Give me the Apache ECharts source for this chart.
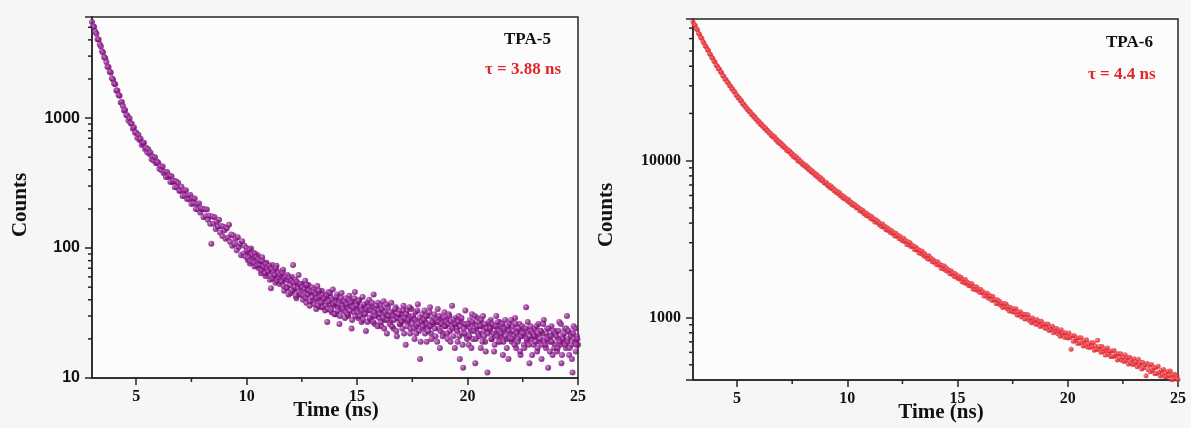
<!DOCTYPE html>
<html>
<head>
<meta charset="utf-8">
<title>TPA-5 / TPA-6 fluorescence decay</title>
<script src="https://cdn.jsdelivr.net/npm/echarts@6.0.0/dist/echarts.min.js"></script>
<style>
html, body { margin: 0; padding: 0; background: #fff; }
#decay { width: 1191px; height: 428px; }
</style>
</head>
<body>
<div id="decay"></div>
<script>
// time channels: 3 ns .. 25 ns, one reading every 0.05 ns
var timeStart = 3;
var timeStep = 0.05;
// the TPA-5 tail is denser: extra readings in between, from 10.025 ns
var lateStart = 10.025;

var xTicks = [5, 10, 15, 20, 25];
var xMinorTicks = [7.5, 12.5, 17.5, 22.5];

var yTicksTPA5 = [10, 100, 1000];
var yMinorTPA5 = [20, 30, 40, 50, 60, 70, 80, 90, 200, 300, 400, 500, 600, 700, 800, 900, 2000, 3000, 4000, 5000];
var yTicksTPA6 = [1000, 10000];
var yMinorTPA6 = [500, 600, 700, 800, 900, 2000, 3000, 4000, 5000, 6000, 7000, 8000, 9000,
    20000, 30000, 40000, 50000, 60000, 70000];

var nameTPA5 = 'TPA-5';
var tauTPA5 = 'τ = 3.88 ns';
var nameTPA6 = 'TPA-6';
var tauTPA6 = 'τ = 4.4 ns';

// photon counts
var countsTPA5 = [
    5500, 5100, 5020, 4610, 4450, 4045, 4025, 3697, 3569, 3277,
    3194, 2939, 2901, 2698, 2481, 2476, 2278, 2248, 2029, 1983,
    1843, 1823, 1633, 1632, 1506, 1488, 1319, 1332, 1242, 1145,
    1156, 1057, 1047, 957, 997, 913, 905, 827, 845, 773,
    774, 707, 744, 680, 693, 620, 640, 646, 579, 591,
    545, 575, 529, 542, 483, 505, 469, 499, 450, 461,
    454, 407, 426, 397, 424, 376, 387, 353, 385, 352,
    362, 323, 357, 323, 329, 294, 326, 294, 318, 276,
    276, 296, 252, 277, 252, 279, 238, 253, 237, 256,
    218, 242, 221, 241, 200, 218, 198, 220, 188, 201,
    201, 173, 199, 176, 198, 165, 177, 154, 108, 175,
    154, 173, 140, 159, 146, 165, 132, 148, 124, 146,
    137, 118, 142, 120, 151, 112, 127, 104, 125, 107,
    118, 96, 121, 102, 108, 88, 113, 91, 104, 86,
    100, 81, 93, 76, 99, 81, 92, 72, 86, 74,
    88, 70, 79, 64, 85, 69, 76, 61, 77, 64,
    71, 57, 49, 74, 59, 68, 54, 73, 58, 63,
    53, 66, 55, 68, 47, 58, 50, 62, 44, 57,
    45, 60, 74, 48, 57, 41, 53, 62, 44, 51,
    53, 40, 49, 56, 38, 47, 52, 36, 45, 50,
    39, 48, 43, 34, 51, 40, 45, 35, 47, 38,
    44, 33, 41, 27, 46, 37, 42, 32, 48, 36,
    40, 31, 44, 35, 26, 39, 45, 33, 38, 29,
    41, 35, 30, 43, 36, 24, 39, 32, 46, 34,
    37, 29, 40, 34, 27, 42, 31, 36, 23, 38,
    33, 40, 28, 35, 30, 44, 26, 34, 31, 38,
    29, 36, 25, 33, 39, 28, 31, 22, 35, 30,
    27, 38, 32, 24, 30, 35, 21, 29, 33, 26,
    31, 24, 36, 28, 18, 33, 27, 30, 22, 34,
    26, 29, 20, 32, 25, 37, 23, 14, 28, 31,
    24, 33, 27, 19, 30, 25, 35, 22, 28, 26,
    31, 21, 27, 34, 24, 17, 29, 26, 22, 32,
    25, 28, 20, 31, 23, 27, 36, 21, 26, 29,
    24, 19, 30, 14, 27, 22, 12, 26, 33, 21,
    25, 18, 28, 23, 31, 20, 26, 13, 24, 29,
    22, 27, 17, 25, 30, 21, 19, 24, 11, 26,
    23, 28, 20, 25, 16, 22, 30, 24, 19, 27,
    21, 25, 15, 23, 28, 20, 24, 14, 26, 22,
    19, 25, 21, 29, 17, 23, 20, 26, 15, 22,
    24, 18, 21, 35, 19, 23, 13, 25, 20, 22,
    18, 24, 21, 16, 26, 19, 23, 14, 22, 28,
    20, 17, 24, 12, 21, 19, 25, 15, 22, 18,
    23, 16, 20, 27, 18, 13, 21, 19, 24, 17,
    30, 20, 15, 22, 18, 11, 25, 19, 16, 21,
    18
];

var countsTPA5Late = [
    95, 84, 97, 79, 90, 88, 77, 91, 85, 73,
    82, 74, 80, 67, 79, 72, 64, 75, 70, 66,
    73, 61, 69, 58, 66, 62, 70, 56, 64, 59,
    62, 55, 64, 51, 58, 60, 49, 56, 59, 52,
    56, 47, 54, 50, 43, 55, 49, 46, 53, 44,
    50, 43, 48, 41, 52, 44, 47, 39, 46, 42,
    46, 37, 44, 41, 36, 47, 42, 38, 43, 35,
    41, 36, 43, 34, 39, 45, 33, 40, 37, 31,
    38, 42, 33, 37, 30, 41, 36, 34, 39, 32,
    37, 31, 40, 33, 38, 28, 35, 41, 30, 36,
    32, 39, 30, 35, 33, 28, 37, 31, 34, 27,
    35, 29, 33, 38, 27, 32, 30, 36, 25, 33,
    31, 27, 34, 29, 24, 32, 37, 28, 30, 26,
    32, 25, 30, 28, 34, 23, 29, 31, 26, 28,
    27, 33, 22, 29, 31, 25, 28, 35, 24, 29,
    30, 24, 28, 22, 33, 26, 29, 19, 27, 25,
    28, 22, 30, 26, 23, 32, 25, 20, 27, 29,
    24, 28, 19, 27, 30, 23, 26, 21, 29, 25,
    27, 22, 26, 30, 19, 25, 24, 28, 17, 26,
    23, 27, 21, 25, 29, 18, 24, 22, 26, 20,
    26, 21, 24, 17, 27, 23, 30, 20, 25, 22,
    21, 25, 28, 19, 23, 26, 16, 24, 22, 27,
    24, 20, 26, 22, 18, 25, 21, 27, 23, 19,
    22, 26, 19, 24, 21, 17, 25, 23, 20, 28,
    20, 23, 18, 26, 22, 19, 24, 16, 21, 25,
    22, 17, 24, 20, 27, 18, 21, 23, 15, 22,
    21, 19, 25, 17, 22, 20, 23, 18, 26, 19,
    18, 22, 20, 24, 16, 21, 19, 23, 17, 22,
    21, 17, 23, 19, 26, 15, 20, 22, 18, 24,
    19, 23, 17, 21, 14, 22, 20, 24, 18, 20
];

var countsTPA6 = [
    76700, 73600, 72800, 69400, 68300, 64800, 63800, 60900, 60200, 57400,
    56200, 53800, 53300, 51100, 50400, 48000, 47400, 45400, 45000, 43100,
    42500, 40600, 40200, 38600, 38400, 36800, 36500, 34800, 34500, 33100,
    32900, 31700, 31400, 30100, 29900, 28700, 28700, 27600, 27400, 26200,
    26000, 25100, 25100, 24100, 24100, 23000, 23100, 22200, 22100, 21300,
    21200, 20500, 20500, 19700, 19800, 19000, 19100, 18400, 18400, 17700,
    17800, 17100, 17200, 16600, 16600, 16000, 16100, 15500, 15500, 15000,
    15000, 14400, 14600, 14100, 14200, 13600, 13700, 13100, 13300, 12800,
    12900, 12400, 12500, 12100, 12100, 11600, 11800, 11400, 11500, 11000,
    11100, 10600, 10800, 10400, 10500, 10000, 10200, 9810, 9890, 9490,
    9600, 9240, 9390, 9030, 9150, 8740, 8840, 8490, 8640, 8310,
    8380, 8050, 8180, 7870, 7930, 7610, 7770, 7460, 7530, 7230,
    7170, 7260, 6950, 7030, 6740, 6910, 6630, 6690, 6430, 6500,
    6260, 6370, 6140, 6240, 5960, 6030, 5780, 5910, 5700, 5750,
    5530, 5650, 5420, 5470, 5240, 5360, 5160, 5240, 5010, 5080,
    5020, 4810, 4920, 4750, 4830, 4610, 4670, 4470, 4590, 4420,
    4480, 4280, 4400, 4220, 4260, 4070, 4200, 4030, 4090, 3900,
    3980, 3810, 3950, 3770, 3820, 3630, 3750, 3590, 3640, 3490,
    3590, 3430, 3480, 3310, 3450, 3300, 3350, 3180, 3290, 3160,
    3090, 3200, 3050, 3090, 2920, 3040, 2900, 3000, 2830, 2880,
    2850, 2720, 2820, 2700, 2730, 2580, 2680, 2560, 2650, 2490,
    2560, 2430, 2480, 2360, 2480, 2350, 2390, 2270, 2340, 2240,
    2270, 2170, 2270, 2160, 2190, 2060, 2150, 2050, 2130, 2000,
    2060, 1970, 2000, 1900, 1990, 1890, 1920, 1830, 1900, 1820,
    1780, 1840, 1760, 1810, 1690, 1740, 1670, 1750, 1650, 1680,
    1600, 1650, 1590, 1640, 1520, 1570, 1510, 1570, 1490, 1520,
    1450, 1510, 1440, 1460, 1370, 1430, 1370, 1430, 1330, 1370,
    1370, 1290, 1360, 1290, 1300, 1230, 1300, 1230, 1270, 1200,
    1230, 1160, 1230, 1170, 1220, 1140, 1170, 1100, 1160, 1110,
    1090, 1140, 1080, 1140, 1040, 1080, 1040, 1090, 1010, 1050,
    1050, 980, 1045, 987, 1044, 957, 989, 927, 993, 942,
    962, 908, 971, 908, 943, 876, 947, 890, 911, 859,
    905, 851, 910, 827, 868, 836, 881, 799, 848, 817,
    851, 788, 819, 761, 836, 778, 801, 748, 801, 754,
    741, 797, 746, 629, 766, 706, 767, 714, 738, 683,
    743, 688, 744, 690, 660, 712, 669, 723, 650, 680,
    645, 691, 653, 691, 618, 660, 627, 716, 625, 653,
    602, 654, 607, 633, 577, 617, 640, 582, 611, 565,
    613, 565, 616, 572, 585, 537, 587, 550, 588, 535,
    559, 525, 580, 535, 556, 505, 558, 514, 538, 503,
    547, 505, 523, 486, 542, 498, 518, 470, 517, 479,
    501, 425, 509, 465, 496, 452, 502, 462, 480, 439,
    480, 441, 489, 447, 424, 462, 433, 467, 419, 442,
    421, 455, 427, 456, 403, 431, 404, 435, 387, 425,
    403
];

var serif = '"Liberation Serif", "Times New Roman", serif';
var sans = '"Liberation Sans", Arial, sans-serif';
var axisColor = '#262626';

function toPairs(counts, start) {
    return counts.map(function (c, i) {
        return [+(start + i * timeStep).toFixed(3), c];
    });
}

function ball(light, mid, dark) {
    return new echarts.graphic.RadialGradient(0.35, 0.35, 0.75, [
        {offset: 0, color: light},
        {offset: 0.5, color: mid},
        {offset: 1, color: dark}
    ]);
}

function xAxisFor(idx) {
    return {
        gridIndex: idx,
        type: 'value',
        min: 3,
        max: 25,
        axisLine: {show: true, onZero: false, lineStyle: {color: axisColor, width: 1.5}},
        axisTick: {show: true, length: 7, customValues: xTicks, lineStyle: {color: axisColor, width: 1.5}},
        axisLabel: {
            customValues: xTicks,
            margin: 11,
            color: '#111',
            fontFamily: serif,
            fontWeight: 'bold',
            fontSize: 16
        },
        splitLine: {show: false}
    };
}

function yAxisFor(idx, lo, hi, ticks, font) {
    return {
        gridIndex: idx,
        type: 'log',
        logBase: 10,
        min: lo,
        max: hi,
        axisLine: {show: true, lineStyle: {color: axisColor, width: 1.5}},
        axisTick: {show: true, length: 7, lineStyle: {color: axisColor, width: 1.5}},
        axisLabel: {
            margin: 12,
            color: '#111',
            fontFamily: font,
            fontWeight: 'bold',
            fontSize: 16,
            formatter: function (v) {
                return ticks.indexOf(Math.round(v)) >= 0 ? String(Math.round(v)) : '';
            }
        },
        splitLine: {show: false}
    };
}

// short minor ticks drawn through the axis scales
function minorTicks(idx, values, dir, at) {
    return {
        type: 'custom',
        xAxisIndex: idx,
        yAxisIndex: idx,
        clip: false,
        silent: true,
        z: 5,
        data: values.map(function (v) { return dir === 'y' ? [at, v] : [v, at]; }),
        renderItem: function (params, api) {
            var p = api.coord([api.value(0), api.value(1)]);
            var shape = dir === 'y'
                ? {x1: p[0], y1: p[1], x2: p[0] - 4, y2: p[1]}
                : {x1: p[0], y1: p[1], x2: p[0], y2: p[1] + 4};
            return {type: 'line', shape: shape, style: {stroke: axisColor, lineWidth: 1.5}};
        }
    };
}

function label(x, y, text, color) {
    return {
        type: 'text', x: x, y: y, z: 10,
        style: {text: text, fill: color, font: 'bold 17px ' + serif}
    };
}

function title(x, y, text, rot) {
    return {
        type: 'text', x: x, y: y, rotation: rot || 0, z: 10,
        style: {text: text, fill: '#111', font: 'bold 21px ' + serif, align: 'center', verticalAlign: 'middle'}
    };
}

var myChart = echarts.init(document.getElementById('decay'));
var option = {
    backgroundColor: '#f6f6f6',
    animation: false,
    grid: [
        {left: 92, top: 17, width: 486, height: 361, show: true, borderColor: axisColor, borderWidth: 1.5, backgroundColor: '#fcfcfc'},
        {left: 693, top: 19, width: 485, height: 361, show: true, borderColor: axisColor, borderWidth: 1.5, backgroundColor: '#fcfcfc'}
    ],
    xAxis: [xAxisFor(0), xAxisFor(1)],
    yAxis: [
        yAxisFor(0, 10, 6000, yTicksTPA5, sans),
        yAxisFor(1, 400, 80000, yTicksTPA6, serif)
    ],
    series: [
        {
            type: 'scatter',
            xAxisIndex: 0,
            yAxisIndex: 0,
            data: toPairs(countsTPA5, timeStart).concat(toPairs(countsTPA5Late, lateStart)),
            symbolSize: 6,
            itemStyle: {color: ball('#c279c2', '#8a168a', '#5e045e')}
        },
        {
            type: 'scatter',
            xAxisIndex: 1,
            yAxisIndex: 1,
            data: toPairs(countsTPA6, timeStart),
            symbolSize: 5,
            itemStyle: {color: ball('#f47a80', '#e62a34', '#cc1620')}
        },
        minorTicks(0, yMinorTPA5, 'y', 3),
        minorTicks(0, xMinorTicks, 'x', 10),
        minorTicks(1, yMinorTPA6, 'y', 3),
        minorTicks(1, xMinorTicks, 'x', 400)
    ],
    graphic: [
        label(504, 31, nameTPA5, '#111'),
        label(485, 61, tauTPA5, '#e3262b'),
        label(1106, 34, nameTPA6, '#111'),
        label(1088, 66, tauTPA6, '#e3262b'),
        title(336, 411, 'Time (ns)'),
        title(941, 413, 'Time (ns)'),
        title(21, 205, 'Counts', Math.PI / 2),
        title(607, 215, 'Counts', Math.PI / 2)
    ]
};
myChart.setOption(option);
window.addEventListener('resize', function () { myChart.resize(); });
</script>
</body>
</html>
